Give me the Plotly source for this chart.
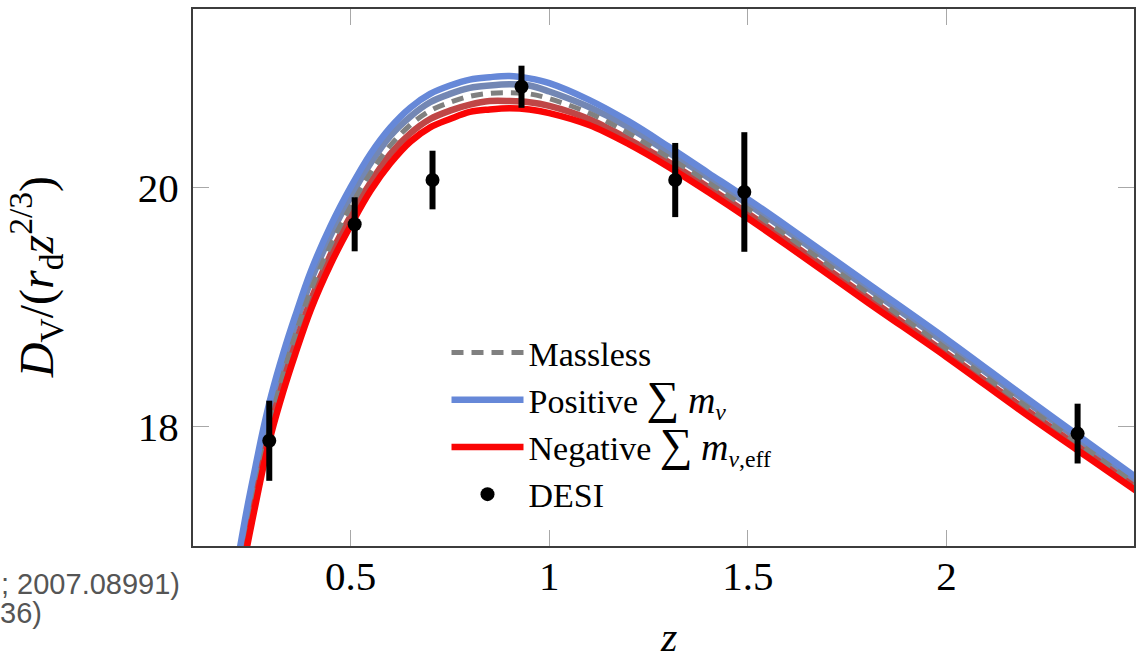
import plotly.graph_objects as go

# ---- data ----
z_grid = [0.20, 0.22, 0.24, 0.26, 0.28, 0.30, 0.33, 0.36, 0.40, 0.45, 0.50, 0.55,
          0.60, 0.65, 0.70, 0.75, 0.80, 0.85, 0.90, 0.95, 1.00, 1.10, 1.20, 1.30,
          1.40, 1.50, 1.60, 1.80, 2.00, 2.20, 2.40, 2.50]

massless = [16.40, 16.80, 17.17, 17.50, 17.82, 18.10, 18.45, 18.76, 19.14, 19.52, 19.84, 20.12,
            20.35, 20.52, 20.64, 20.71, 20.76, 20.785, 20.79, 20.78, 20.74, 20.62, 20.45, 20.25,
            20.04, 19.82, 19.59, 19.12, 18.65, 18.17, 17.70, 17.46]

positive_large = [16.56, 16.96, 17.33, 17.66, 17.98, 18.26, 18.61, 18.92, 19.30, 19.68, 20.00, 20.28,
                  20.50, 20.665, 20.78, 20.85, 20.90, 20.92, 20.93, 20.91, 20.87, 20.73, 20.55, 20.34,
                  20.12, 19.90, 19.67, 19.20, 18.73, 18.24, 17.76, 17.52]

positive_small = [16.48, 16.88, 17.25, 17.58, 17.90, 18.18, 18.53, 18.84, 19.22, 19.60, 19.92, 20.20,
                  20.43, 20.59, 20.71, 20.78, 20.83, 20.85, 20.86, 20.85, 20.80, 20.67, 20.50, 20.29,
                  20.08, 19.86, 19.63, 19.16, 18.69, 18.21, 17.73, 17.49]

negative_small = [16.32, 16.72, 17.09, 17.42, 17.74, 18.02, 18.37, 18.68, 19.06, 19.44, 19.76, 20.04,
                  20.28, 20.45, 20.57, 20.64, 20.69, 20.72, 20.72, 20.71, 20.68, 20.57, 20.40, 20.21,
                  20.00, 19.78, 19.55, 19.08, 18.61, 18.14, 17.67, 17.43]

negative_large = [16.24, 16.64, 17.01, 17.34, 17.66, 17.94, 18.29, 18.60, 18.98, 19.36, 19.68, 19.97,
                  20.20, 20.38, 20.50, 20.57, 20.63, 20.65, 20.66, 20.65, 20.62, 20.52, 20.36, 20.17,
                  19.96, 19.74, 19.51, 19.04, 18.58, 18.10, 17.64, 17.41]

desi_z = [0.295, 0.510, 0.706, 0.930, 1.317, 1.491, 2.330]
desi_val = [17.88, 19.69, 20.06, 20.84, 20.06, 19.96, 17.94]
desi_err = [0.335, 0.226, 0.245, 0.176, 0.31, 0.50, 0.25]

x_ticks = [0.5, 1, 1.5, 2]
x_ticklabels = ["0.5", "1", "1.5", "2"]
y_ticks = [18, 20]
y_ticklabels = ["18", "20"]

BLUE = "#6688d8"
BLUE_MID = "#7387b4"
GRAY = "#808080"
RED_MID = "#bf4646"
RED = "#fa0505"
LW = 6.5
SERIF = "Liberation Serif"

SUM = "<span style='font-size:46px'>∑</span>"
M = "<span style='font-size:38px'><i>m</i></span>"

fig = go.Figure()

fig.add_trace(go.Scatter(x=z_grid, y=positive_small, mode="lines", line=dict(color=BLUE_MID, width=LW, shape="spline"),
                         showlegend=False, hoverinfo="skip"))
fig.add_trace(go.Scatter(x=z_grid, y=negative_small, mode="lines", line=dict(color=RED_MID, width=LW, shape="spline"),
                         showlegend=False, hoverinfo="skip"))
fig.add_trace(go.Scatter(x=z_grid, y=massless, mode="lines", name="Massless",
                         line=dict(color=GRAY, width=5, dash="12px,8px", shape="spline")))
fig.add_trace(go.Scatter(x=z_grid, y=positive_large, mode="lines",
                         name="Positive " + SUM + " " + M + "<sub><i>ν</i></sub>",
                         line=dict(color=BLUE, width=LW, shape="spline")))
fig.add_trace(go.Scatter(x=z_grid, y=negative_large, mode="lines",
                         name="Negative " + SUM + " " + M + "<sub><i>ν</i>,eff</sub>",
                         line=dict(color=RED, width=LW, shape="spline")))
fig.add_trace(go.Scatter(x=desi_z, y=desi_val, mode="markers", name="DESI",
                         marker=dict(color="black", size=14),
                         error_y=dict(type="data", array=desi_err, thickness=6, width=0, color="black")))

axis_common = dict(ticks="inside", ticklen=16, tickwidth=1, tickcolor="#a8a8a8",
                   showline=True, linecolor="#3c3c3c", linewidth=2, mirror="ticks",
                   showgrid=False, zeroline=False,
                   tickfont=dict(family=SERIF, size=41, color="black"))

fig.update_xaxes(range=[0.103, 2.472], tickvals=x_ticks, ticktext=x_ticklabels,
                 ticklabelstandoff=-7, **axis_common)
fig.update_yaxes(range=[17.0, 21.49], tickvals=y_ticks, ticktext=y_ticklabels,
                 ticklabelstandoff=4, **axis_common)

fig.update_layout(
    width=1136, height=660,
    margin=dict(l=193, r=0, t=9, b=114),
    paper_bgcolor="white", plot_bgcolor="white",
    font=dict(family=SERIF, color="black"),
    legend=dict(x=0.2694, y=0.4135, xanchor="left", yanchor="top",
                bgcolor="rgba(0,0,0,0)", borderwidth=0,
                font=dict(family=SERIF, size=34, color="black"),
                itemwidth=72, tracegroupgap=0),
    annotations=[
        dict(text="<i>z</i>", xref="paper", yref="paper", x=0.5058, y=-0.17,
             xanchor="center", yanchor="middle", showarrow=False,
             font=dict(family=SERIF, size=42, color="black")),
        dict(text="<i>D</i><sub>V</sub>/(<i>r</i><sub>d</sub><i>z</i><sup>2/3</sup>)",
             xref="paper", yref="paper", x=-0.1665, y=0.501, textangle=-90,
             xanchor="center", yanchor="middle", showarrow=False,
             font=dict(family=SERIF, size=48, color="black")),
        dict(text="; 2007.08991)", xref="paper", yref="paper", x=-0.0117, y=-0.0708,
             xanchor="right", yanchor="middle", showarrow=False,
             font=dict(family="Liberation Sans", size=29, color="#555555")),
        dict(text="36)", xref="paper", yref="paper", x=-0.158, y=-0.1248,
             xanchor="right", yanchor="middle", showarrow=False,
             font=dict(family="Liberation Sans", size=29, color="#555555")),
    ],
)

fig.write_html("out.html")
